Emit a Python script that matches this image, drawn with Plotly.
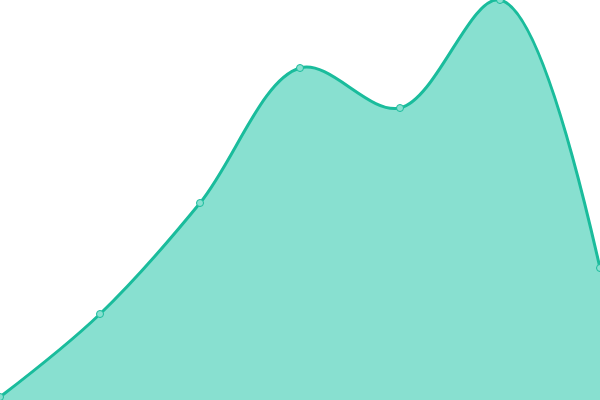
import plotly.graph_objects as go

# data (one point every 100px)
categories = [0, 1, 2, 3, 4, 5, 6]
values = [3, 86, 197, 332, 292, 400, 132]

line_color = "#1abc9c"
fill_color = "#88e0d0"

fig = go.Figure()

fig.add_trace(go.Scatter(
    x=categories,
    y=values,
    mode="lines+markers",
    line=dict(color=line_color, width=3, shape="spline", smoothing=1.0),
    fill="tozeroy",
    fillcolor=fill_color,
    marker=dict(size=7, color=fill_color, line=dict(color=line_color, width=1)),
    cliponaxis=True,
    hoverinfo="skip",
))

fig.update_layout(
    width=600,
    height=400,
    margin=dict(l=0, r=0, t=0, b=0),
    paper_bgcolor="white",
    plot_bgcolor="white",
    showlegend=False,
    xaxis=dict(range=[0, 6], visible=False, fixedrange=True),
    yaxis=dict(range=[0, 400], visible=False, fixedrange=True),
)

# drop the default page margin so the chart sits at the top-left corner
fig.write_html("out.html", config={"displayModeBar": False},
               post_script="document.body.style.margin='0';document.body.style.overflow='hidden';")
